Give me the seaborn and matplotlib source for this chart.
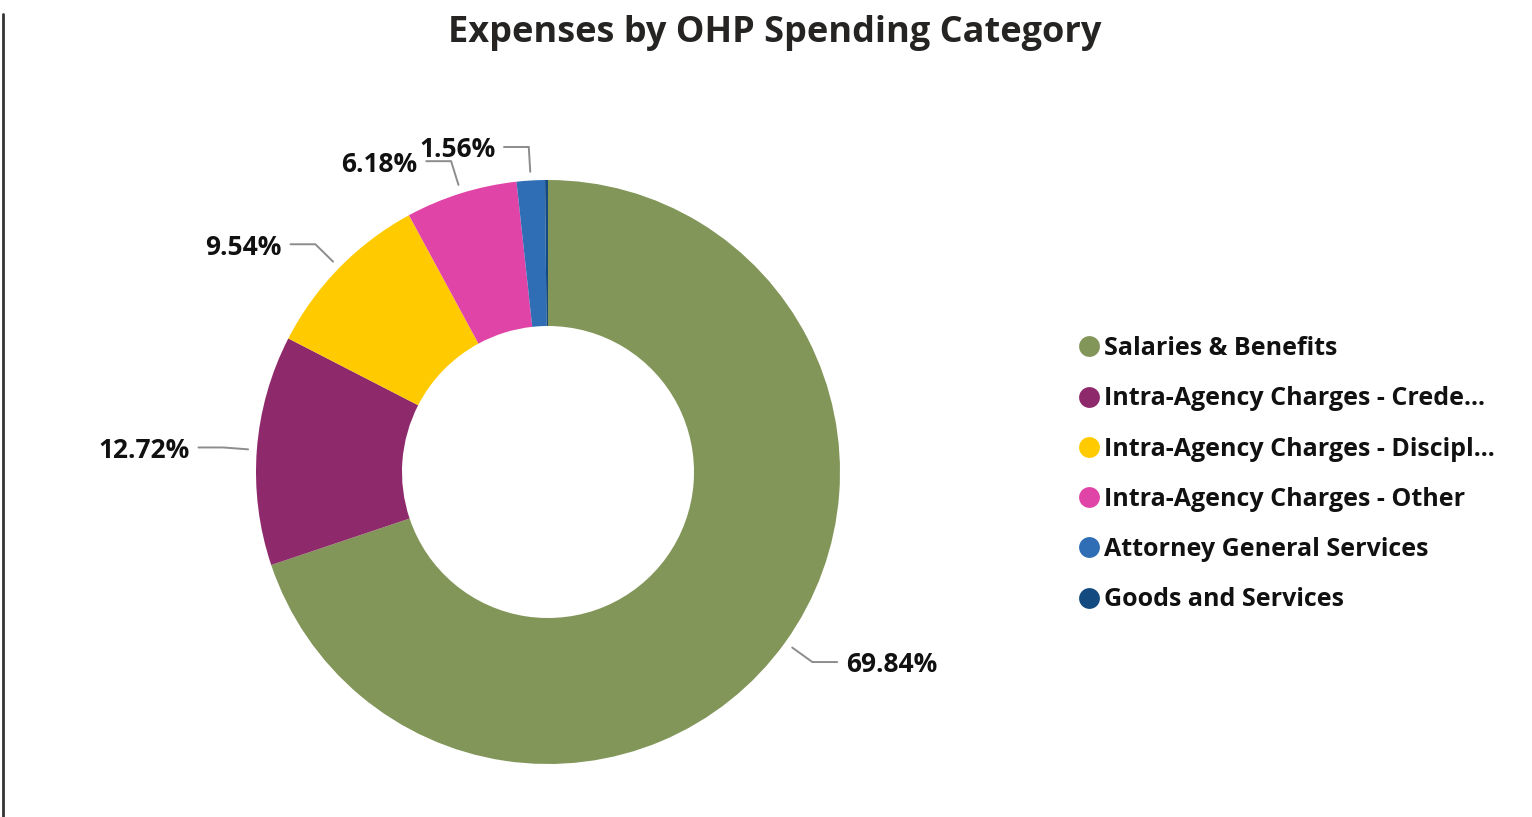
"""
plot.py
Donut chart of expenses by OHP spending category, saved to out.png.
"""

import numpy as np
import matplotlib
matplotlib.use("Agg")
import matplotlib.pyplot as plt
from matplotlib.lines import Line2D
import seaborn as sns

CATEGORIES = [
    "Salaries & Benefits",
    "Intra-Agency Charges - Crede...",
    "Intra-Agency Charges - Discipl...",
    "Intra-Agency Charges - Other",
    "Attorney General Services",
    "Goods and Services",
]
SHARES = [69.84, 12.72, 9.54, 6.18, 1.56, 0.16]
LABELS = ["69.84%", "12.72%", "9.54%", "6.18%", "1.56%", ""]
COLORS = ["#83965A", "#8E2A6B", "#FFCB00", "#E044A7", "#2F6DB5", "#134A80"]

sns.set_theme(style="white")
plt.rcParams["font.family"] = ["Open Sans", "DejaVu Sans"]

W, H = 1532, 817
fig = plt.figure(figsize=(W / 100, H / 100), dpi=100)
fig.patch.set_facecolor("white")

# donut placed by pixel centre / radius
cx, cy, r = 548, 472, 292
ax = fig.add_axes([(cx - r) / W, (H - cy - r) / H, 2 * r / W, 2 * r / H])

wedges, _ = ax.pie(
    SHARES, colors=COLORS, startangle=90, counterclock=False,
    radius=1.0, wedgeprops={"width": 0.5, "linewidth": 0},
)
# pie() resets the limits to +-1.25, put them back so radius 1 fills the axes
ax.set_xlim(-1, 1)
ax.set_ylim(-1, 1)
ax.set_aspect("equal")
ax.axis("off")

# leader lines + labels (Power BI style)
for w, lab in zip(wedges, LABELS):
    if not lab:
        continue
    mid = np.deg2rad((w.theta1 + w.theta2) / 2)
    c, s = np.cos(mid), np.sin(mid)
    x0, y0 = 1.03 * c, 1.03 * s
    x1, y1 = 1.115 * c, 1.115 * s
    side = 1 if c > 0 else -1
    x2 = x1 + side * 0.085
    ax.plot([x0, x1, x2], [y0, y1, y1], color="#8c8c8c", lw=1.4,
            clip_on=False, solid_joinstyle="miter")
    ax.text(x2 + side * 0.03, y1 - 0.01, lab,
            ha="left" if side > 0 else "right",
            va="center", fontsize=19, fontweight="bold", color="#111111",
            clip_on=False)

fig.text(775 / W, 1 - 33 / H, "Expenses by OHP Spending Category",
         ha="center", va="center", fontsize=26, fontweight="bold",
         color="#252423")

handles = [
    Line2D([0], [0], marker="o", linestyle="none", markersize=15,
           markerfacecolor=col, markeredgewidth=0)
    for col in COLORS
]
fig.legend(handles, CATEGORIES, loc="upper left",
           bbox_to_anchor=(1064 / W, 1 - 326 / H), frameon=False,
           prop={"size": 18, "weight": "bold"}, labelcolor="#111111",
           handletextpad=0.0, handlelength=1.2, labelspacing=1.01,
           borderaxespad=0)

# left card border from the dashboard
fig.add_artist(Line2D([3 / W, 3 / W], [0, 1 - 14 / H], color="#333333",
                      lw=2.0, transform=fig.transFigure))

fig.savefig("out.png", dpi=100)
